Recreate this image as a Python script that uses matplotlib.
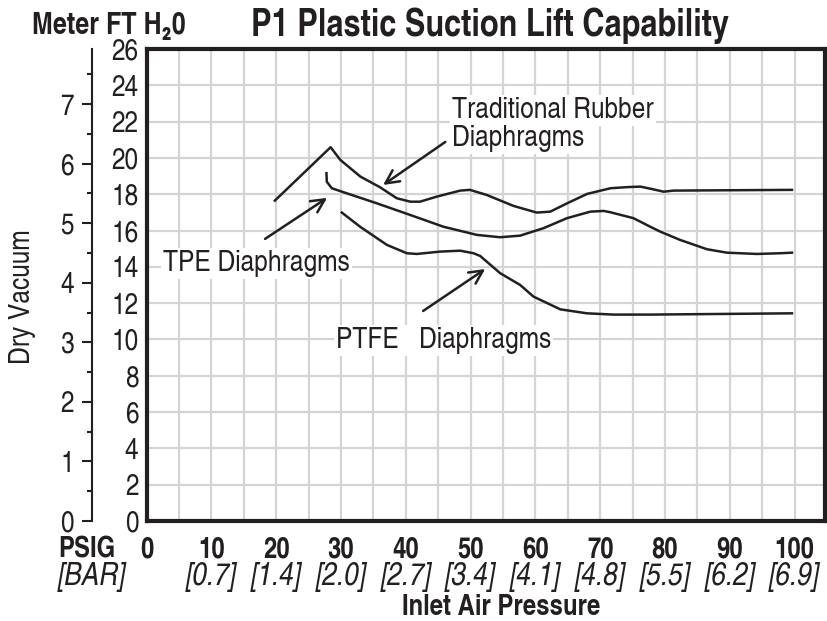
import numpy as np
import matplotlib
matplotlib.use('Agg')
import matplotlib.pyplot as plt
from matplotlib.ticker import MultipleLocator, NullFormatter
from matplotlib.transforms import blended_transform_factory

# --- data ---
psig_ticks = [0, 10, 20, 30, 40, 50, 60, 70, 80, 90, 100]
bar_labels = ['', '[0.7]', '[1.4]', '[2.0]', '[2.7]', '[3.4]', '[4.1]',
              '[4.8]', '[5.5]', '[6.2]', '[6.9]']
ft_ticks = list(range(0, 27, 2))
meter_ticks = list(range(0, 8))

rubber_x = [19.8, 28.4, 29.9, 33.0, 36.0, 38.6, 40.7, 42.2, 44.8, 48.4, 49.9,
            52.5, 56.6, 60.2, 62.3, 64.9, 68.0, 71.6, 74.1, 76.2, 78.2, 79.8,
            81.3, 99.6]
rubber_y = [17.65, 20.59, 19.89, 18.97, 18.39, 17.78, 17.59, 17.59, 17.87, 18.2,
            18.24, 17.96, 17.36, 16.99, 17.04, 17.5, 18.02, 18.33, 18.39, 18.42,
            18.27, 18.14, 18.2, 18.24]

tpe_x = [27.76, 27.81, 28.58, 30.9, 35.53, 40.67, 45.81, 50.97, 54.57, 57.66,
         61.26, 64.87, 68.47, 70.52, 71.55, 75.15, 77.73, 79.27, 82.36, 86.49,
         89.58, 94.2, 97.8, 99.6]
tpe_y = [19.16, 18.69, 18.33, 18.05, 17.5, 16.86, 16.21, 15.76, 15.63, 15.72,
         16.13, 16.68, 17.04, 17.08, 17.01, 16.68, 16.21, 15.94, 15.48, 14.97,
         14.78, 14.71, 14.75, 14.78]

ptfe_x = [30.13, 32.95, 37.08, 40.16, 41.71, 45.3, 48.4, 50.45, 51.48, 54.57,
          57.66, 59.71, 63.84, 67.96, 72.07, 77.73, 99.6]
ptfe_y = [16.99, 16.21, 15.21, 14.75, 14.71, 14.84, 14.89, 14.75, 14.6, 13.65,
          13.0, 12.36, 11.66, 11.44, 11.37, 11.37, 11.44]

ink = '#231f20'
grid_col = '#d4d4d4'

plt.rcParams['font.family'] = ['TeX Gyre Heros Cn', 'Roboto Condensed', 'DejaVu Sans']
plt.rcParams['text.color'] = ink

W, H = 827, 621
fig = plt.figure(figsize=(W / 100, H / 100), dpi=100)
ax = fig.add_axes([146.6 / W, 1 - 521 / H, (825 - 146.6) / W, (521 - 49) / H])
ax.set_xlim(0, 104.7)
ax.set_ylim(0, 26)

ax.set_xticks(psig_ticks)
ax.xaxis.set_major_formatter(NullFormatter())
ax.xaxis.set_minor_locator(MultipleLocator(5))
ax.set_yticks(ft_ticks, labels=[str(t) for t in ft_ticks], fontsize=21.5)
ax.tick_params(which='both', length=0, colors=ink)
ax.tick_params(axis='y', pad=6)
ax.grid(which='both', color=grid_col, lw=1.6)
ax.set_axisbelow(True)
for s in ax.spines.values():
    s.set_linewidth(3)
    s.set_color(ink)
    s.set_capstyle('projecting')

ax.plot(rubber_x, rubber_y, color=ink, lw=1.8, zorder=3)
ax.plot(tpe_x, tpe_y, color=ink, lw=1.8, zorder=3)
ax.plot(ptfe_x, ptfe_y, color=ink, lw=1.8, zorder=3)

box = dict(facecolor='white', edgecolor='none', pad=1.5)
ax.text(47.14, 22.2, 'Traditional Rubber', fontsize=21.5, bbox=box, zorder=2)
ax.text(47.14, 20.66, 'Diaphragms', fontsize=21.5, bbox=box, zorder=2)
ax.text(2.53, 13.77, 'TPE Diaphragms', fontsize=21.5, bbox=box, zorder=2)
ax.text(29.25, 9.53, 'PTFE   Diaphragms', fontsize=21.5, bbox=box, zorder=2)

arrow = dict(arrowstyle='->', lw=1.8, color=ink, mutation_scale=24,
             shrinkA=0, shrinkB=0)
ax.annotate('', xy=(36.5, 18.51), xytext=(46.1, 20.88), arrowprops=arrow)
ax.annotate('', xy=(27.86, 17.8), xytext=(18.28, 15.54), arrowprops=arrow)
ax.annotate('', xy=(52.26, 13.88), xytext=(42.68, 11.57), arrowprops=arrow)

# x labels: psig row and bar row
tr = blended_transform_factory(ax.transData, fig.transFigure)
for x, lab in zip(psig_ticks, bar_labels):
    ax.text(x, 1 - 557 / H, str(x), transform=tr, ha='center', va='baseline',
            fontsize=21, fontweight='bold')
    ax.text(x, 1 - 585 / H, lab, transform=tr, ha='center', va='baseline',
            fontsize=23, style='italic')
fig.text(87 / W, 1 - 557 / H, 'PSIG', ha='center', va='baseline',
         fontsize=21, fontweight='bold')
fig.text(92 / W, 1 - 585 / H, '[BAR]', ha='center', va='baseline',
         fontsize=23, style='italic')
fig.text(501 / W, 1 - 615 / H, 'Inlet Air Pressure', ha='center', va='baseline',
         fontsize=21, fontweight='bold')

# meter scale on the far left
ax2 = fig.add_axes([92 / W, 1 - 521 / H, 0.0001, (521 - 49) / H])
ax2.set_facecolor('none')
ax2.set_ylim(0, 26 / 3.28084)
ax2.set_xticks([])
ax2.set_yticks(meter_ticks, labels=[str(t) for t in meter_ticks], fontsize=21.5)
ax2.yaxis.set_minor_locator(MultipleLocator(0.5))
ax2.tick_params(axis='y', which='major', length=7, width=1.5, pad=6, colors=ink)
ax2.tick_params(axis='y', which='minor', length=3.5, width=1.5, colors=ink)
for k in ['top', 'right', 'bottom']:
    ax2.spines[k].set_visible(False)
ax2.spines['left'].set_linewidth(1.5)
ax2.spines['left'].set_color(ink)

fig.text(22.5 / W, 1 - 297 / H, 'Dry Vacuum', rotation=90, ha='center',
         va='center', fontsize=21.5)
fig.text(32 / W, 1 - 33.5 / H, 'Meter FT H\u20820', ha='left', va='baseline',
         fontsize=22, fontweight='bold')
fig.text(490 / W, 1 - 36 / H, 'P1 Plastic Suction Lift Capability',
         ha='center', va='baseline', fontsize=27, fontweight='bold')

fig.savefig('out.png', dpi=100)
